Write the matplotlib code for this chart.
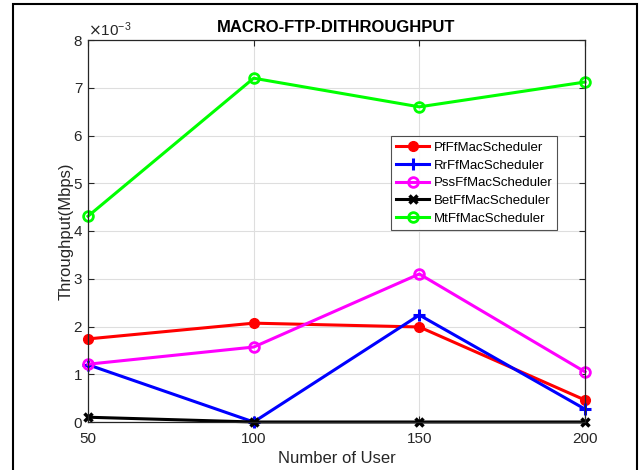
import matplotlib.pyplot as plt
from matplotlib.patches import Rectangle
from matplotlib.ticker import ScalarFormatter

plt.rcParams['font.family'] = ['Liberation Sans', 'DejaVu Sans']

users = [50, 100, 150, 200]
pf = [1.74e-3, 2.07e-3, 1.99e-3, 0.46e-3]
rr = [1.2e-3, 0.0, 2.24e-3, 0.27e-3]
pss = [1.21e-3, 1.57e-3, 3.1e-3, 1.05e-3]
bet = [0.1e-3, 0.0, 0.0, 0.0]
mt = [4.31e-3, 7.2e-3, 6.6e-3, 7.12e-3]

fig = plt.figure(figsize=(6.39, 4.70), dpi=100)
fig.patch.set_facecolor('white')
ax = fig.add_axes([88 / 639, 1 - 422 / 470, 497 / 639, 382 / 470])

lw = 2.2
kw = dict(lw=lw, clip_on=False)
ax.plot(users, pf, color='#ff0000', marker='o', ms=7, label='PfFfMacScheduler', **kw)
ax.plot(users, rr, color='#0000ff', marker='+', ms=8, mew=2.2, label='RrFfMacScheduler', **kw)
ax.plot(users, pss, color='#ff00ff', marker='o', ms=7, mfc='none', mew=2, label='PssFfMacScheduler', **kw)
ax.plot(users, bet, color='black', marker='x', ms=6, mew=2.5, label='BetFfMacScheduler', **kw)
ax.plot(users, mt, color='#00ff00', marker='o', ms=7, mfc='none', mew=2, label='MtFfMacScheduler', **kw)

ax.set_xlim(50, 200)
ax.set_ylim(0, 8e-3)
ax.set_xticks(users)
ax.set_yticks([i * 1e-3 for i in range(9)])
fmt = ScalarFormatter(useMathText=True)
fmt.set_powerlimits((-2, 2))
ax.yaxis.set_major_formatter(fmt)
ax.yaxis.get_offset_text().set_fontsize(11)
ax.yaxis.get_offset_text().set_color('#262626')

ax.grid(True, color='#dedede', lw=0.8)
ax.tick_params(direction='in', labelsize=11, colors='#262626', length=4, top=True, right=True)
ax.tick_params(axis='x', pad=7)
for s in ax.spines.values():
    s.set_color('#262626')
    s.set_linewidth(0.9)

ax.set_title('MACRO-FTP-DITHROUGHPUT', fontsize=12, fontweight='bold', pad=6)
ax.set_xlabel('Number of User', fontsize=12, color='#262626', labelpad=4)
ax.set_ylabel('Throughput(Mbps)', fontsize=12, color='#262626', labelpad=0)

leg = ax.legend(loc='upper left', bbox_to_anchor=(0.61, 0.748), fontsize=9.5, frameon=True,
                fancybox=False, edgecolor='#262626', handlelength=2.5, handletextpad=0.3,
                labelspacing=0.42, borderpad=0.4, borderaxespad=0)
leg.get_frame().set_linewidth(0.8)

fig.patches.append(Rectangle((13 / 639, -0.05), 624 / 639, 1.05 - 4 / 470,
                             transform=fig.transFigure, fill=False, ec='black', lw=1.5))

fig.savefig('out.png', dpi=100)
